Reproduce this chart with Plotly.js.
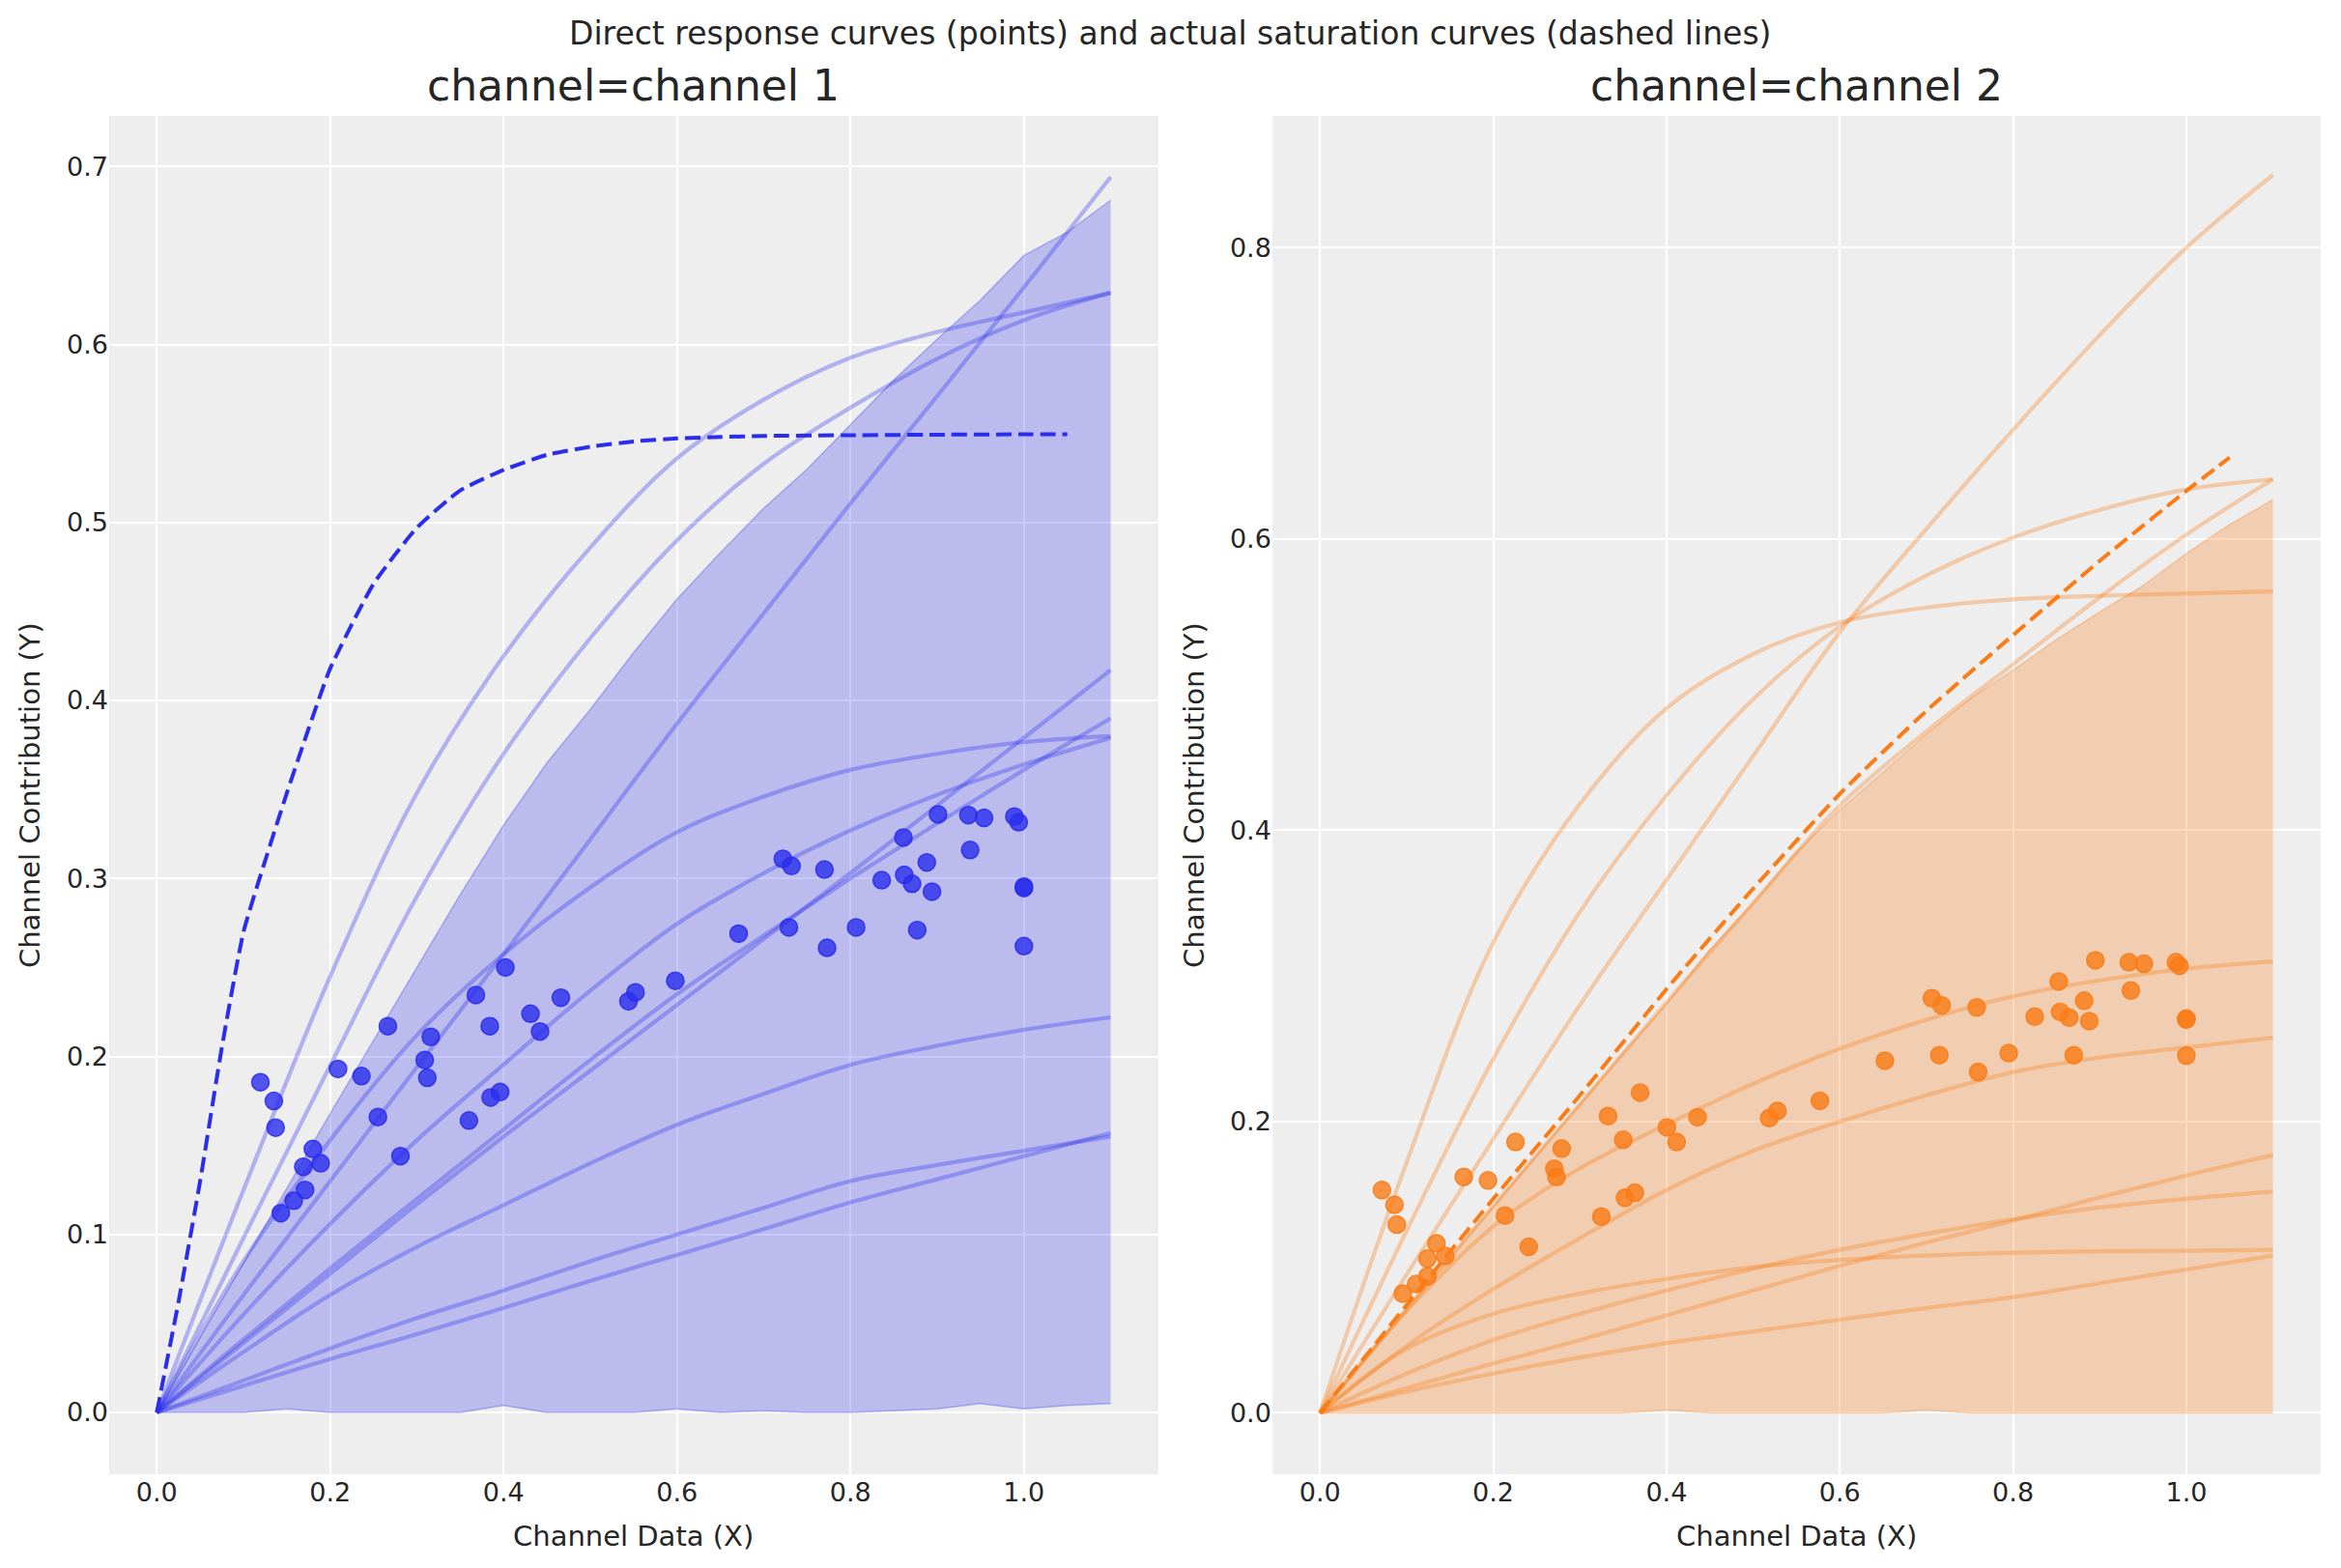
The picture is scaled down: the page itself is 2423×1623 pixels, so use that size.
<!DOCTYPE html>
<html>
<head>
<meta charset="utf-8">
<script src="https://cdn.plot.ly/plotly-3.0.1.min.js"></script>
<style>
  html, body { margin: 0; padding: 0; background: #ffffff; }
</style>
</head>
<body>
<div id="chart" style="width:2423px;height:1623px"></div>
<script>
// ---- data ----
const curveX = [0, 0.1, 0.2, 0.3, 0.4, 0.5, 0.6, 0.7, 0.8, 0.9, 1.0, 1.1];
const bandX = [0, 0.05, 0.1, 0.15, 0.2, 0.25, 0.3, 0.35, 0.4, 0.45, 0.5, 0.55,
               0.6, 0.65, 0.7, 0.75, 0.8, 0.85, 0.9, 0.95, 1.0, 1.05, 1.1];

// channel 1
const ch1PointsX = [0.1195, 0.135, 0.137, 0.143, 0.158, 0.171, 0.169, 0.180, 0.189, 0.209, 0.236, 0.255,
                    0.2665, 0.281, 0.309, 0.312, 0.316, 0.360, 0.368, 0.384, 0.385, 0.396, 0.402, 0.431,
                    0.442, 0.466, 0.544, 0.552, 0.598, 0.671, 0.722, 0.732, 0.729, 0.770, 0.773, 0.8065,
                    0.836, 0.861, 0.862, 0.871, 0.877, 0.888, 0.894, 0.901, 0.936, 0.938, 0.954, 0.989,
                    0.994, 1.0, 1.0, 1.0];
const ch1PointsY = [0.1855, 0.175, 0.160, 0.112, 0.119, 0.125, 0.138, 0.148, 0.140, 0.193, 0.189, 0.166,
                    0.217, 0.144, 0.198, 0.188, 0.211, 0.164, 0.2345, 0.217, 0.177, 0.180, 0.250, 0.224,
                    0.214, 0.233, 0.231, 0.236, 0.2425, 0.269, 0.311, 0.307, 0.2725, 0.305, 0.261, 0.2725,
                    0.299, 0.323, 0.302, 0.297, 0.271, 0.309, 0.2926, 0.336, 0.3356, 0.316, 0.334, 0.3348,
                    0.3316, 0.2954, 0.2946, 0.262];
const ch1Curves = [
    [0, 0.125, 0.245, 0.348, 0.425, 0.486, 0.536, 0.569, 0.5925, 0.607, 0.618, 0.629],
    [0, 0.098, 0.195, 0.29, 0.37, 0.435, 0.49, 0.533, 0.5645, 0.592, 0.6136, 0.629],
    [0, 0.066, 0.13, 0.194, 0.2575, 0.322, 0.387, 0.449, 0.5107, 0.571, 0.632, 0.694],
    [0, 0.085, 0.153, 0.212, 0.2575, 0.295, 0.326, 0.346, 0.361, 0.37, 0.3766, 0.380],
    [0, 0.055, 0.106, 0.153, 0.1955, 0.237, 0.2745, 0.303, 0.327, 0.347, 0.364, 0.379],
    [0, 0.041, 0.081, 0.12, 0.159, 0.198, 0.235, 0.268, 0.3, 0.331, 0.361, 0.39],
    [0, 0.039, 0.078, 0.117, 0.155, 0.192, 0.229, 0.266, 0.303, 0.341, 0.379, 0.417],
    [0, 0.034, 0.066, 0.093, 0.1165, 0.14, 0.1616, 0.179, 0.1953, 0.206, 0.215, 0.222],
    [0, 0.018, 0.036, 0.053, 0.0685, 0.085, 0.1, 0.115, 0.13, 0.139, 0.147, 0.155],
    [0, 0.015, 0.03, 0.044, 0.0587, 0.074, 0.0885, 0.103, 0.118, 0.131, 0.144, 0.157]
];
const ch1BandLow = [0, 0, 0, 0.002, 0, 0, 0, 0, 0.004, 0, 0, 0,
                    0.002, 0, 0.001, 0, 0, 0.001, 0.002, 0.005, 0.002, 0.004, 0.005];
const ch1BandHigh = [0, 0.042, 0.084, 0.126, 0.168, 0.209, 0.25, 0.291, 0.33, 0.365, 0.395, 0.427,
                     0.457, 0.483, 0.508, 0.53, 0.555, 0.58, 0.603, 0.625, 0.65, 0.663, 0.681];
const ch1TrueX = [0, 0.025, 0.05, 0.075, 0.1, 0.125, 0.15, 0.175, 0.2, 0.25, 0.3, 0.35,
                  0.4, 0.45, 0.5, 0.55, 0.6, 0.65, 0.7, 0.8, 0.9, 1.0, 1.05];
const ch1TrueY = [0, 0.062, 0.13, 0.205, 0.27, 0.31, 0.348, 0.384, 0.418, 0.4655, 0.497, 0.518,
                  0.5295, 0.538, 0.5425, 0.5455, 0.5472, 0.548, 0.5486, 0.549, 0.5493, 0.5495, 0.5496];

// channel 2
const ch2PointsX = [0.0715, 0.086, 0.0887, 0.0956, 0.111, 0.124, 0.124, 0.1344, 0.1447, 0.166, 0.194, 0.2136,
                    0.2257, 0.241, 0.2705, 0.273, 0.279, 0.3247, 0.3325, 0.35, 0.352, 0.3635, 0.3695, 0.4005,
                    0.4117, 0.4358, 0.5185, 0.528, 0.577, 0.652, 0.7063, 0.7149, 0.7175, 0.758, 0.7597, 0.795,
                    0.825, 0.8527, 0.8544, 0.8648, 0.87, 0.882, 0.888, 0.895, 0.9337, 0.936, 0.951, 0.988,
                    0.992, 1.0, 1.0, 1.0];
const ch2PointsY = [0.153, 0.1429, 0.1293, 0.0819, 0.0885, 0.0937, 0.1059, 0.1164, 0.1077, 0.162, 0.1596, 0.1355,
                    0.186, 0.114, 0.1676, 0.162, 0.1815, 0.1348, 0.2038, 0.1875, 0.1477, 0.1512, 0.2199, 0.196,
                    0.186, 0.203, 0.2024, 0.2073, 0.2143, 0.2418, 0.2847, 0.2456, 0.2798, 0.2784, 0.2341, 0.247,
                    0.2721, 0.2962, 0.2753, 0.2714, 0.2456, 0.283, 0.269, 0.3108, 0.3094, 0.290, 0.3084, 0.3094,
                    0.307, 0.2707, 0.270, 0.2453];
const ch2Curves = [
    [0, 0.095, 0.188, 0.28, 0.366, 0.451, 0.536, 0.607, 0.675, 0.74, 0.8, 0.85],
    [0, 0.125, 0.243, 0.344, 0.424, 0.49, 0.54, 0.575, 0.601, 0.62, 0.634, 0.641],
    [0, 0.071, 0.142, 0.212, 0.282, 0.35, 0.417, 0.468, 0.514, 0.56, 0.603, 0.641],
    [0, 0.172, 0.323, 0.418, 0.4838, 0.521, 0.5427, 0.553, 0.5586, 0.561, 0.5626, 0.564],
    [0, 0.07, 0.128, 0.168, 0.198, 0.226, 0.25, 0.27, 0.286, 0.297, 0.305, 0.31],
    [0, 0.046, 0.085, 0.12, 0.153, 0.18, 0.2, 0.218, 0.234, 0.244, 0.251, 0.2576],
    [0, 0.017, 0.034, 0.05, 0.067, 0.084, 0.101, 0.117, 0.132, 0.148, 0.163, 0.177],
    [0, 0.027, 0.05, 0.068, 0.084, 0.099, 0.112, 0.123, 0.133, 0.141, 0.147, 0.152],
    [0, 0.044, 0.068, 0.082, 0.092, 0.1, 0.105, 0.108, 0.11, 0.111, 0.1113, 0.112],
    [0, 0.0146, 0.027, 0.038, 0.048, 0.056, 0.064, 0.072, 0.0795, 0.089, 0.0985, 0.108]
];
const ch2BandLow = [0, 0, 0, 0, 0, 0, 0, 0, 0.002, 0, 0, 0,
                    0, 0, 0.002, 0, 0, 0, 0, 0, 0, 0, 0];
const ch2BandHigh = [0, 0.036, 0.072, 0.107, 0.142, 0.177, 0.212, 0.247, 0.281, 0.318, 0.35, 0.385,
                     0.414, 0.44, 0.466, 0.49, 0.51, 0.531, 0.55, 0.568, 0.59, 0.61, 0.627];
const ch2TrueX = [0, 0.1, 0.2, 0.3, 0.4, 0.5, 0.6, 0.7, 0.8, 0.9, 1.0, 1.05];
const ch2TrueY = [0, 0.074, 0.147, 0.218, 0.291, 0.36, 0.425, 0.482, 0.534, 0.585, 0.633, 0.656];

const xTicks = [0, 0.2, 0.4, 0.6, 0.8, 1.0];
const ch1YTicks = [0, 0.1, 0.2, 0.3, 0.4, 0.5, 0.6, 0.7];
const ch2YTicks = [0, 0.2, 0.4, 0.6, 0.8];

const BLUE = "42,46,236";
const ORANGE = "250,124,23";
const FONT = "DejaVu Sans";
const TEXT_COLOR = "#262626";


function channelTraces(rgb, bandAlpha, xa, ya, pointsX, pointsY, curves, bandLow, bandHigh, trueX, trueY) {
    /*
        Build the traces of one panel: HDI band, sampled curves,
        direct response points and the true saturation curve (dashed).
    */
    const traces = [];

    traces.push({
        x: bandX, y: bandLow, xaxis: xa, yaxis: ya,
        mode: "lines", line: {color: `rgba(${rgb},0.3)`, width: 1.5},
        hoverinfo: "skip"
    });
    traces.push({
        x: bandX, y: bandHigh, xaxis: xa, yaxis: ya,
        mode: "lines", line: {color: `rgba(${rgb},0.3)`, width: 1.5},
        fill: "tonexty", fillcolor: `rgba(${rgb},${bandAlpha})`,
        hoverinfo: "skip"
    });

    curves.forEach(c => {
        traces.push({
            x: curveX, y: c, xaxis: xa, yaxis: ya,
            mode: "lines",
            line: {color: `rgba(${rgb},0.32)`, width: 4.2, shape: "spline", smoothing: 1.0},
            hoverinfo: "skip"
        });
    });

    traces.push({
        x: pointsX, y: pointsY, xaxis: xa, yaxis: ya,
        mode: "markers",
        marker: {size: 18, color: `rgba(${rgb},0.8)`, line: {color: `rgba(${rgb},0.9)`, width: 1.5}}
    });

    traces.push({
        x: trueX, y: trueY, xaxis: xa, yaxis: ya,
        mode: "lines",
        line: {color: `rgb(${rgb})`, width: 4, dash: "16px,7px", shape: "spline", smoothing: 0.5}
    });

    return traces;
}

function axisStyle(domain, range, ticks, anchor) {
    return {
        domain: domain,
        range: range,
        anchor: anchor,
        tickvals: ticks,
        tickformat: ".1f",
        ticks: "",
        showline: false,
        zeroline: false,
        showgrid: true,
        gridcolor: "#ffffff",
        gridwidth: 2,
        tickfont: {family: FONT, size: 27, color: TEXT_COLOR},
        fixedrange: true
    };
}

const data = [].concat(
    channelTraces(BLUE, 0.26, "x", "y", ch1PointsX, ch1PointsY, ch1Curves, ch1BandLow, ch1BandHigh, ch1TrueX, ch1TrueY),
    channelTraces(ORANGE, 0.28, "x2", "y2", ch2PointsX, ch2PointsY, ch2Curves, ch2BandLow, ch2BandHigh, ch2TrueX, ch2TrueY)
);

const yDomain = [0.0598, 0.9261];

const layout = {
    width: 2423,
    height: 1623,
    margin: {l: 0, r: 0, t: 0, b: 0},
    paper_bgcolor: "#ffffff",
    plot_bgcolor: "#eeeeee",
    showlegend: false,
    hovermode: false,
    xaxis: axisStyle([0.0466, 0.4948], [-0.055, 1.155], xTicks, "y"),
    yaxis: axisStyle(yDomain, [-0.0347, 0.7284], ch1YTicks, "x"),
    xaxis2: axisStyle([0.5435, 0.9913], [-0.055, 1.155], xTicks, "y2"),
    yaxis2: axisStyle(yDomain, [-0.0421, 0.8905], ch2YTicks, "x2"),
    annotations: [
        {text: "Direct response curves (points) and actual saturation curves (dashed lines)",
         xref: "paper", yref: "paper", x: 0.5, y: 0.9655, xanchor: "center", yanchor: "bottom",
         showarrow: false, font: {family: FONT, size: 33, color: TEXT_COLOR}},
        {text: "channel=channel 1", xref: "paper", yref: "paper", x: 0.2707, y: 0.9285,
         xanchor: "center", yanchor: "bottom", showarrow: false,
         font: {family: FONT, size: 44, color: TEXT_COLOR}},
        {text: "channel=channel 2", xref: "paper", yref: "paper", x: 0.7674, y: 0.9285,
         xanchor: "center", yanchor: "bottom", showarrow: false,
         font: {family: FONT, size: 44, color: TEXT_COLOR}},
        {text: "Channel Data (X)", xref: "paper", yref: "paper", x: 0.2707, y: 0.0203,
         xanchor: "center", yanchor: "middle", showarrow: false,
         font: {family: FONT, size: 29, color: TEXT_COLOR}},
        {text: "Channel Data (X)", xref: "paper", yref: "paper", x: 0.7674, y: 0.0203,
         xanchor: "center", yanchor: "middle", showarrow: false,
         font: {family: FONT, size: 29, color: TEXT_COLOR}},
        {text: "Channel Contribution (Y)", xref: "paper", yref: "paper", x: 0.0128, y: 0.4929,
         xanchor: "center", yanchor: "middle", textangle: -90, showarrow: false,
         font: {family: FONT, size: 29, color: TEXT_COLOR}},
        {text: "Channel Contribution (Y)", xref: "paper", yref: "paper", x: 0.5101, y: 0.4929,
         xanchor: "center", yanchor: "middle", textangle: -90, showarrow: false,
         font: {family: FONT, size: 29, color: TEXT_COLOR}}
    ]
};

Plotly.newPlot("chart", data, layout, {displayModeBar: false, staticPlot: true});
</script>
</body>
</html>
